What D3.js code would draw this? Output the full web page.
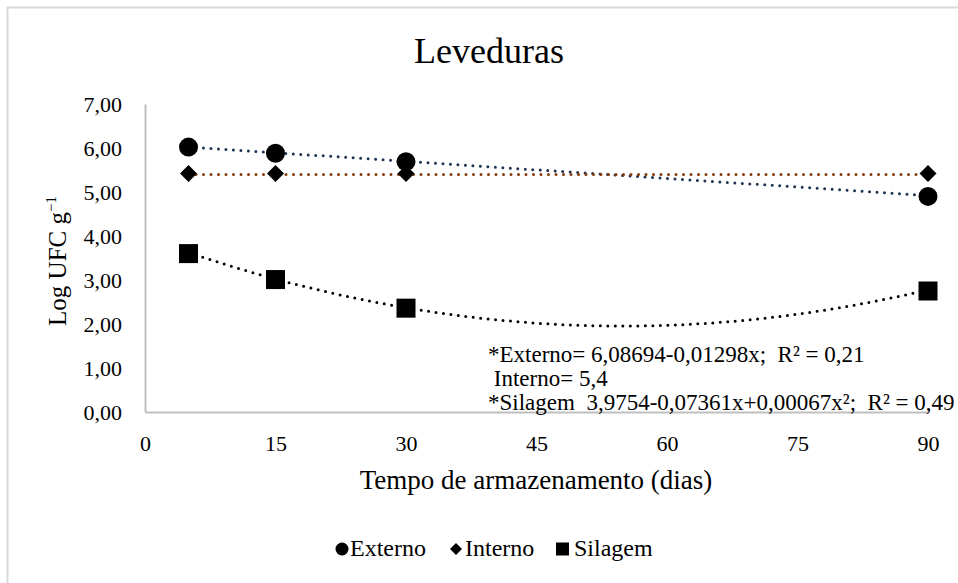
<!DOCTYPE html>
<html>
  <head>
    <meta charset="utf-8">
    <script src="https://d3js.org/d3.v7.min.js"></script>
    <style>
      body { margin: 0; background: #fff; }
      svg text { font-family: "Liberation Serif", Tinos, "Times New Roman", "DejaVu Serif", serif !important; fill: #000; }
    </style>
  </head>
  <body>
    <svg id="chart" width="958" height="583"></svg>
    <script>
      // data
      var dias = [5, 15, 30, 90];
      var externo = [6.02, 5.88, 5.69, 4.90];
      var interno = [5.42, 5.42, 5.42, 5.42];
      var silagem = [3.60, 3.01, 2.36, 2.75];
      var xTicks = [0, 15, 30, 45, 60, 75, 90];
      var yTicks = [0, 1, 2, 3, 4, 5, 6, 7];
      // trendline coefficients from the equations in the chart (a + b x + c x^2)
      var trendExterno = [6.08694, -0.01298, 0];
      var trendInterno = [5.4, 0, 0];
      var trendSilagem = [3.9754, -0.07361, 0.00067];
      var equations = [
        "*Externo= 6,08694-0,01298x;  R² = 0,21",
        " Interno= 5,4",
        "*Silagem  3,9754-0,07361x+0,00067x²;  R² = 0,49"
      ];

      var serif = '"Liberation Serif", Tinos, "Times New Roman", "DejaVu Serif", serif';
      var svg = d3.select("#chart").attr("font-family", serif);

      // outer chart border
      svg.append("rect")
        .attr("x", 7.5).attr("y", 7.5)
        .attr("width", 1000).attr("height", 700)
        .attr("fill", "none")
        .attr("stroke", "#d9d9d9")
        .attr("stroke-width", 2);

      var x = d3.scaleLinear().domain([0, 90]).range([145, 928]);
      var y = d3.scaleLinear().domain([0, 7]).range([412, 104]);

      // title
      svg.append("text")
        .attr("x", 489).attr("y", 63)
        .attr("text-anchor", "middle")
        .style("font-size", "36px")
        .text("Leveduras");

      // axes
      var yAxis = svg.append("g")
        .attr("transform", "translate(" + x(0) + ",0)")
        .call(d3.axisLeft(y).tickValues(yTicks).tickSize(0).tickPadding(23)
          .tickFormat(function (d) { return d3.format(".2f")(d).replace(".", ","); }));
      yAxis.attr("font-family", serif);
      yAxis.select(".domain").attr("stroke", "#bfbfbf").attr("stroke-width", 2);
      yAxis.selectAll("text").style("font-size", "22px");

      var xAxis = svg.append("g")
        .attr("transform", "translate(0," + y(0) + ")")
        .call(d3.axisBottom(x).tickValues(xTicks).tickSize(0).tickPadding(39));
      xAxis.attr("font-family", serif);
      xAxis.select(".domain").attr("stroke", "#bfbfbf").attr("stroke-width", 2);
      xAxis.selectAll("text").style("font-size", "22px").attr("dy", "0");

      // axis titles
      svg.append("text")
        .attr("x", 536).attr("y", 489)
        .attr("text-anchor", "middle")
        .style("font-size", "27px")
        .text("Tempo de armazenamento (dias)");

      var yt = svg.append("text")
        .attr("transform", "translate(66,261) rotate(-90)")
        .attr("text-anchor", "middle")
        .style("font-size", "25px");
      yt.append("tspan").text("Log UFC g");
      yt.append("tspan").attr("dy", "-10").style("font-size", "15px").text("−1");

      // trendlines
      function trend(c) {
        var pts = d3.range(5, 90.5, 0.5);
        return pts.map(function (t) { return [t, c[0] + c[1] * t + c[2] * t * t]; });
      }
      var line = d3.line()
        .x(function (d) { return x(d[0]); })
        .y(function (d) { return y(d[1]); });

      var trends = [
        { c: trendExterno, color: "#1f3352" },
        { c: trendInterno, color: "#843c0c" },
        { c: trendSilagem, color: "#000" }
      ];
      trends.forEach(function (t) {
        svg.append("path")
          .attr("d", line(trend(t.c)))
          .attr("fill", "none")
          .attr("stroke", t.color)
          .attr("stroke-width", 3)
          .attr("stroke-linecap", "round")
          .attr("stroke-dasharray", "0 7.5");
      });

      // markers
      var pairs = function (vals) { return vals.map(function (v, i) { return [dias[i], v]; }); };

      svg.selectAll(".m-interno").data(pairs(interno)).enter()
        .append("path").attr("class", "m-interno")
        .attr("transform", function (d) { return "translate(" + x(d[0]) + "," + y(d[1]) + ")"; })
        .attr("d", "M0,-8.5L8.5,0L0,8.5L-8.5,0Z")
        .attr("fill", "#000");

      svg.selectAll(".m-externo").data(pairs(externo)).enter()
        .append("circle").attr("class", "m-externo")
        .attr("cx", function (d) { return x(d[0]); })
        .attr("cy", function (d) { return y(d[1]); })
        .attr("r", 9.5)
        .attr("fill", "#000");

      svg.selectAll(".m-silagem").data(pairs(silagem)).enter()
        .append("rect").attr("class", "m-silagem")
        .attr("x", function (d) { return x(d[0]) - 9.5; })
        .attr("y", function (d) { return y(d[1]) - 9.5; })
        .attr("width", 19).attr("height", 19)
        .attr("fill", "#000");

      // equations
      var eqY = [362, 386, 410];
      equations.forEach(function (e, i) {
        svg.append("text")
          .attr("x", 488).attr("y", eqY[i])
          .style("font-size", "23px")
          .style("white-space", "pre")
          .attr("xml:space", "preserve")
          .text(e);
      });

      // legend
      var lg = svg.append("g").attr("transform", "translate(0,549)");
      lg.append("circle").attr("cx", 342).attr("cy", 0).attr("r", 6.5).attr("fill", "#000");
      lg.append("text").attr("x", 350).attr("y", 7).style("font-size", "24px").text("Externo");
      lg.append("path").attr("transform", "translate(456,0)")
        .attr("d", "M0,-6L6,0L0,6L-6,0Z").attr("fill", "#000");
      lg.append("text").attr("x", 465).attr("y", 7).style("font-size", "24px").text("Interno");
      lg.append("rect").attr("x", 556).attr("y", -6.5).attr("width", 13).attr("height", 13).attr("fill", "#000");
      lg.append("text").attr("x", 574).attr("y", 7).style("font-size", "24px").text("Silagem");
    </script>
  </body>
</html>
